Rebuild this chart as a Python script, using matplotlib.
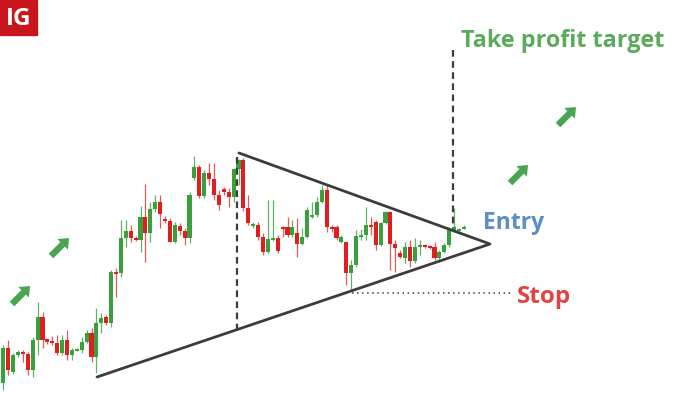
import matplotlib
matplotlib.use("Agg")
import matplotlib.pyplot as plt
import numpy as np

# candle levels (screen level, smaller = higher price)
opens = [383, 348, 372, 355, 352, 354, 370, 340, 317, 339, 341, 343, 353, 340, 355, 350,
         350, 342, 333, 357, 323, 317, 323, 272, 273, 238, 231, 238, 240, 217, 233, 209,
         202, 219, 221, 242, 226, 231, 238, 178, 167, 196, 173, 179, 195, 189, 192, 197,
         169, 160, 208, 226, 225, 237, 252, 239, 238, 227, 227, 235, 233, 244, 237, 217,
         215, 202, 190, 227, 227, 242, 242, 273, 265, 237, 235, 225, 222, 245, 223, 212,
         244, 253, 258, 247, 261, 247, 245, 246, 247, 258, 252, 245, 231, 230, 228]
closes = [348, 370, 355, 352, 354, 370, 340, 317, 340, 342, 343, 353, 340, 355, 350, 349,
          342, 333, 357, 323, 318, 323, 272, 274, 238, 231, 238, 240, 217, 233, 209, 202,
          214, 221, 242, 225, 231, 238, 195, 167, 196, 173, 179, 195, 205, 192, 197, 169,
          160, 208, 223, 224, 237, 252, 239, 238, 251, 229, 235, 227, 244, 237, 210, 215,
          202, 190, 227, 228, 238, 237, 273, 265, 236, 235, 225, 227, 245, 223, 212, 244,
          248, 257, 247, 261, 247, 245, 247, 248, 258, 252, 245, 230, 227, 229, 227]
highs = [345, 340, 353, 350, 350, 352, 337, 302, 312, 338, 336, 335, 335, 330, 348, 348,
         337, 330, 328, 308, 313, 315, 270, 268, 220, 220, 225, 236, 206, 184, 202, 195,
         195, 216, 218, 222, 223, 228, 192, 156, 165, 170, 163, 163, 190, 187, 188, 168,
         159, 158, 195, 222, 222, 233, 200, 200, 235, 226, 217, 220, 218, 228, 207, 202,
         197, 185, 185, 225, 225, 235, 242, 260, 230, 229, 207, 217, 220, 222, 211, 211,
         240, 250, 242, 240, 238, 240, 244, 245, 242, 250, 243, 227, 208, 228, 225]
lows = [390, 375, 374, 357, 362, 375, 377, 355, 348, 344, 345, 355, 355, 360, 360, 351,
        353, 343, 362, 373, 333, 325, 327, 297, 277, 247, 242, 241, 252, 262, 242, 212,
        228, 223, 242, 243, 235, 245, 243, 180, 198, 198, 185, 200, 210, 195, 207, 202,
        185, 211, 225, 228, 240, 255, 253, 241, 253, 237, 237, 237, 257, 245, 238, 218,
        217, 203, 232, 232, 240, 243, 285, 290, 267, 240, 240, 235, 250, 246, 224, 270,
        272, 258, 263, 267, 263, 255, 248, 249, 260, 262, 253, 247, 232, 231, 229]

# triangle: top-left, apex, bottom-left
tri_x = [239, 490, 97]
tri_y = [153, 244, 377]
# dashed verticals (x, top, bottom) and stop line
vlines_x = [237, 453]
vlines_top = [157, 50]
vlines_bot = [330, 228]
stop_level = 293
stop_x = [352, 513]

# arrows (tail x, tail y)
arrow_x = [12, 51, 510, 558]
arrow_y = [304, 256, 183, 125]

GREEN = "#3aa03c"
RED = "#e01e20"
LINE = "#3c3c3c"

fig = plt.figure(figsize=(6.8, 4.01), dpi=100)
ax = fig.add_axes([0, 0, 1, 1])
ax.set_xlim(0, 680)
ax.set_ylim(401, 0)
ax.axis("off")

n = len(opens)
xs = 3.3 + 4.9 * np.arange(n)
o = np.array(opens, float)
c = np.array(closes, float)
up = c <= o
cols = np.where(up, GREEN, RED)
wick_cols = np.where(up, "#5fb461", "#e65a5a")

ax.vlines(xs, highs, lows, colors=wick_cols, linewidth=0.9, zorder=2)
top = np.minimum(o, c)
height = np.maximum(np.abs(o - c), 2)
ax.bar(xs, height, bottom=top, width=4.1, color=cols, linewidth=0, zorder=3)

# triangle
ax.plot([tri_x[0], tri_x[1], tri_x[2]], [tri_y[0], tri_y[1], tri_y[2]],
        color=LINE, linewidth=2.0, solid_capstyle="round", zorder=4)

for x, t, b in zip(vlines_x, vlines_top, vlines_bot):
    ax.plot([x, x], [t, b], color=LINE, linewidth=1.6, dashes=(3, 2), zorder=4)

ax.plot(stop_x, [stop_level, stop_level], color="#555555", linewidth=1.3,
        dashes=(0.8, 2.0), zorder=4)

for x, y in zip(arrow_x, arrow_y):
    ax.arrow(x, y, 18, -18, width=6.5, head_width=15, head_length=9,
             length_includes_head=True, color="#4aa552", linewidth=0, zorder=5)

ax.text(461, 41, "Take profit target", fontsize=16.8, fontweight="bold",
        family="Open Sans", color="#5aab5c", va="center", ha="left")
ax.text(483, 223, "Entry", fontsize=16.5, fontweight="bold",
        family="Open Sans", color="#5b8fc6", va="center", ha="left")
ax.text(517, 297, "Stop", fontsize=17.5, fontweight="bold",
        family="Open Sans", color="#e04442", va="center", ha="left")

# IG logo
ax.add_patch(plt.Rectangle((0, 0), 37, 35, color="#c8161d", zorder=6))
ax.text(18.5, 19, "IG", fontsize=17.5, fontweight="bold", family="Open Sans",
        color="white", ha="center", va="center", zorder=7)

fig.savefig("out.png", dpi=100)
